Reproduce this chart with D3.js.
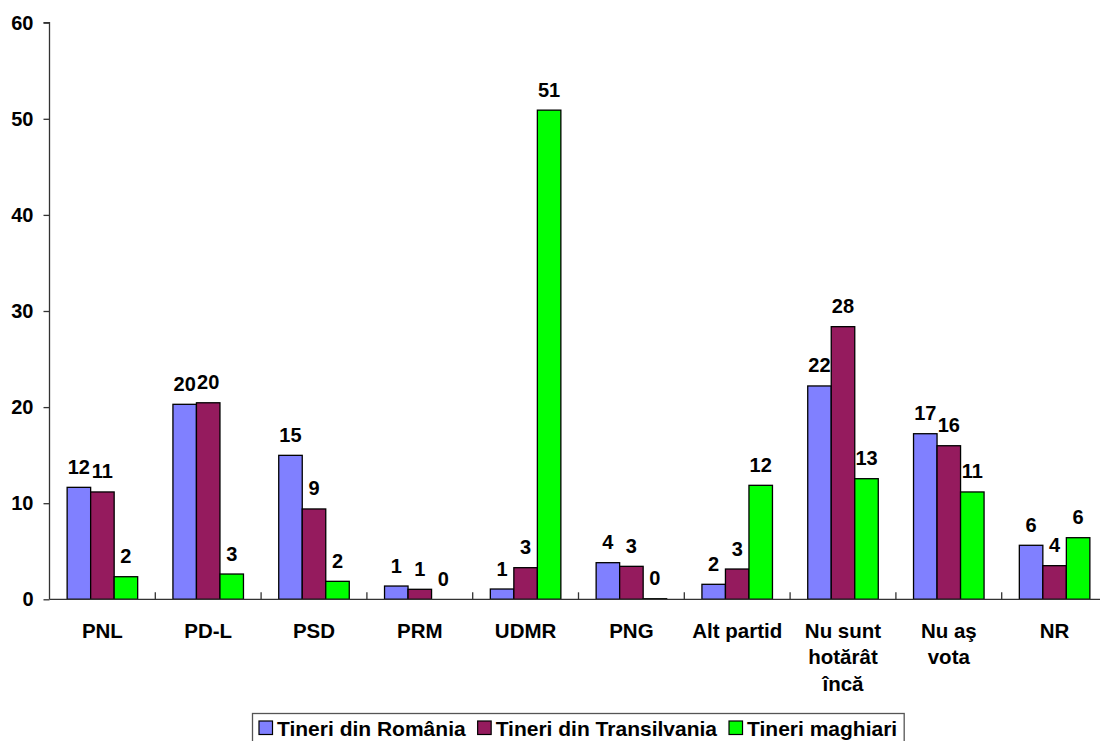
<!DOCTYPE html>
<html>
<head>
<meta charset="utf-8">
<script src="https://cdn.jsdelivr.net/npm/d3@7"></script>
<style>
  html, body { margin: 0; padding: 0; background: #fff; }
  svg { display: block; font-family: "Liberation Sans", Arial, sans-serif; font-weight: bold; }
</style>
</head>
<body>
<svg id="chart" width="1100" height="741"></svg>
<script>
const categories = ["PNL", "PD-L", "PSD", "PRM", "UDMR", "PNG", "Alt partid", "Nu sunt\nhotărât\nîncă", "Nu aş\nvota", "NR"];
const seriesNames = ["Tineri din România", "Tineri din Transilvania", "Tineri maghiari"];
const seriesColors = ["#8080FF", "#951B5E", "#00FF00"];
const romania      = [11.65, 20.29, 14.98, 1.38, 1.07, 3.81, 1.56, 22.2, 17.23, 5.62];
const transilvania = [11.17, 20.45, 9.4, 1.04, 3.29, 3.43, 3.15, 28.37, 15.98, 3.5];
const maghiari     = [2.35, 2.63, 1.87, 0, 50.9, 0.06, 11.86, 12.55, 11.17, 6.41];
const yTicks = [0, 10, 20, 30, 40, 50, 60];

const seriesValues = [romania, transilvania, maghiari];

(function () {
const svg = d3.select("#chart");
const mLeft = 49.5, mTop = 22.7, mBottom = 599.3, bandW = 105.8;

const x0 = d3.scaleBand().domain(categories).range([mLeft, mLeft + bandW * categories.length]).padding(0);
const bw = x0.bandwidth() / 4.5;
const x1 = d3.scaleBand().domain(seriesNames).range([bw * 0.75, bw * 3.75]).padding(0);
const y = d3.scaleLinear().domain([0, 60]).range([mBottom, mTop]);
const fmt = d3.format(".0f");

// bars
const groups = svg.append("g").selectAll("g").data(categories).join("g")
  .attr("transform", d => `translate(${x0(d)},0)`);

groups.selectAll("rect")
  .data((c, i) => seriesNames.map((s, k) => ({ s, k, v: seriesValues[k][i] })))
  .join("rect")
  .attr("x", d => x1(d.s))
  .attr("width", x1.bandwidth())
  .attr("y", d => y(d.v))
  .attr("height", d => Math.max(0, y(0) - y(d.v)))
  .attr("fill", d => seriesColors[d.k])
  .attr("stroke", "#000")
  .attr("stroke-width", 1.3);

// data labels
groups.selectAll("text.lbl")
  .data((c, i) => seriesNames.map((s, k) => ({ s, k, v: seriesValues[k][i] })))
  .join("text")
  .attr("class", "lbl")
  .attr("x", d => x1(d.s) + x1.bandwidth() / 2)
  .attr("y", d => y(d.v) - 13.5)
  .attr("text-anchor", "middle")
  .attr("font-size", 20)
  .attr("fill", "#000")
  .text(d => fmt(d.v));

// y axis
const yAxis = d3.axisLeft(y).tickValues(yTicks).tickSize(6).tickPadding(10).tickFormat(d3.format("d"));
const gy = svg.append("g").attr("transform", `translate(${mLeft},0)`).call(yAxis);
gy.select(".domain").attr("stroke", "#333").attr("stroke-width", 1.3).attr("d", `M-6,${mTop}H0V${mBottom}`);
gy.selectAll(".tick line").attr("stroke", "#333").attr("stroke-width", 1.3);
gy.selectAll(".tick text").attr("font-size", 20).attr("font-weight", "bold").attr("fill", "#000")
  .attr("font-family", "Liberation Sans, Arial, sans-serif");

// x axis
const xAxis = d3.axisBottom(x0).tickSize(0).tickFormat("");
const gx = svg.append("g").attr("transform", `translate(0,${mBottom})`).call(xAxis);
gx.select(".domain").attr("stroke", "#333").attr("stroke-width", 1.3)
  .attr("d", `M${mLeft},0H${mLeft + bandW * categories.length}`);
gx.selectAll("line.bt")
  .data(categories.slice(1))
  .join("line")
  .attr("class", "bt")
  .attr("x1", d => x0(d)).attr("x2", d => x0(d))
  .attr("y1", 0).attr("y2", -7)
  .attr("stroke", "#333").attr("stroke-width", 1.3);

// category labels
const catText = svg.append("g").selectAll("text").data(categories).join("text")
  .attr("x", d => x0(d) + x0.bandwidth() / 2)
  .attr("y", 638)
  .attr("text-anchor", "middle")
  .attr("font-size", 20.5)
  .attr("fill", "#000");
catText.each(function(d) {
  const t = d3.select(this);
  d.split("\n").forEach((line, i) => {
    t.append("tspan").attr("x", x0(d) + x0.bandwidth() / 2).attr("dy", i === 0 ? 0 : 26.3).text(line);
  });
});

// legend
const lg = svg.append("g");
const legendBox = lg.append("rect")
  .attr("x", 252.5).attr("y", 713.5).attr("height", 40)
  .attr("fill", "#fff").attr("stroke", "#555").attr("stroke-width", 1.3);
let lx = 259;
seriesNames.forEach((s, k) => {
  lg.append("rect").attr("x", lx).attr("y", 721).attr("width", 13.5).attr("height", 13.5)
    .attr("fill", seriesColors[k]).attr("stroke", "#000").attr("stroke-width", 1.2);
  const t = lg.append("text").attr("x", lx + 18).attr("y", 735.5)
    .attr("font-size", 21).attr("fill", "#000").text(s);
  lx = lx + 18 + t.node().getComputedTextLength() + 12;
});
legendBox.attr("width", lx - 252.5 - 5);
})();
</script>
</body>
</html>
